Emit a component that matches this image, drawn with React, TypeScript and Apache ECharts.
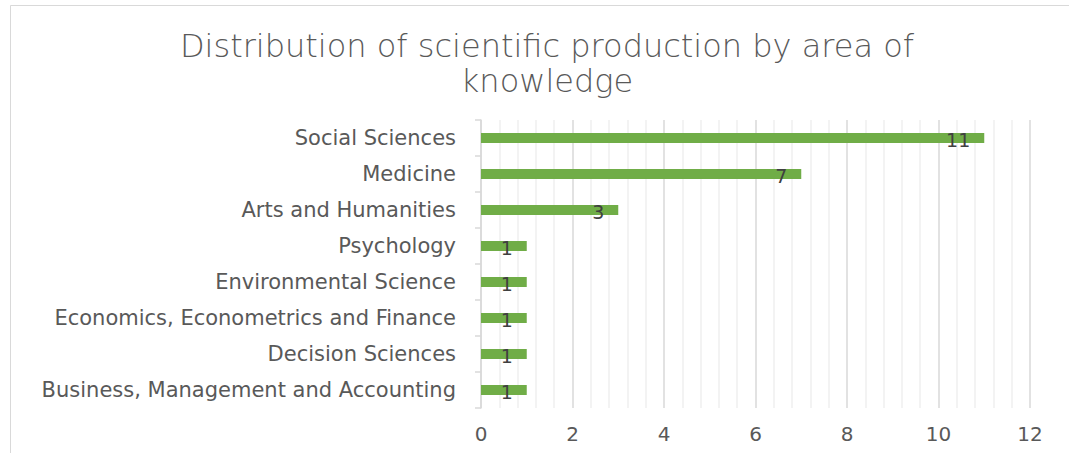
import React, { useEffect, useRef } from "react";
import * as echarts from "echarts";

const categories = [
  "Business, Management and Accounting",
  "Decision Sciences",
  "Economics, Econometrics and Finance",
  "Environmental Science",
  "Psychology",
  "Arts and Humanities",
  "Medicine",
  "Social Sciences",
];
const values = [1, 1, 1, 1, 1, 3, 7, 11];
const titleLine1 = "Distribution of scientific production by area of";
const titleLine2 = "knowledge";

export default function App() {
  const ref = useRef<HTMLDivElement>(null);
  useEffect(() => {
    document.body.style.margin = "0";
    const chart = echarts.init(ref.current!, null, { renderer: "svg" });
    const titleStyle = {
      fontFamily: "DejaVu Sans",
      fontWeight: 200,
      fontSize: 32,
      color: "#595959",
    };
    chart.setOption({
      animation: false,
      backgroundColor: "#ffffff",
      graphic: [
        {
          type: "rect",
          shape: { x: 10.5, y: 5.5, width: 1070, height: 460 },
          style: { fill: "none", stroke: "#d9d9d9", lineWidth: 1 },
          silent: true,
        },
      ],
      title: {
        text: titleLine1,
        subtext: titleLine2,
        left: 542,
        textAlign: "center",
        top: 25,
        itemGap: 3,
        textStyle: titleStyle,
        subtextStyle: titleStyle,
      },
      grid: { left: 481, right: 39, top: 120, bottom: 45, containLabel: false },
      xAxis: {
        type: "value",
        min: 0,
        max: 12,
        interval: 2,
        axisLine: { show: false },
        axisTick: { show: false },
        axisLabel: {
          color: "#595959",
          fontFamily: "DejaVu Sans",
          fontSize: 20,
          margin: 16,
        },
        splitLine: { show: true, lineStyle: { color: "#d9d9d9", width: 1.5 } },
        minorTick: { show: false, splitNumber: 5 },
        minorSplitLine: { show: true, lineStyle: { color: "#efefef", width: 1.5 } },
      },
      yAxis: {
        type: "category",
        data: categories,
        axisLine: { show: true, lineStyle: { color: "#d9d9d9", width: 1.5 } },
        axisTick: { show: true, length: 6, lineStyle: { color: "#d9d9d9", width: 1.5 } },
        axisLabel: {
          color: "#595959",
          fontFamily: "DejaVu Sans",
          fontSize: 21,
          margin: 25,
        },
        splitLine: { show: false },
      },
      series: [
        {
          type: "bar",
          data: values,
          barWidth: 10,
          itemStyle: { color: "#70ad47" },
          label: {
            show: true,
            position: "insideRight",
            distance: 14,
            offset: [0, 2],
            color: "#404040",
            fontFamily: "DejaVu Sans",
            fontSize: 19,
          },
        },
      ],
    });
    return () => chart.dispose();
  }, []);
  return <div ref={ref} style={{ width: 1069, height: 453 }} />;
}
